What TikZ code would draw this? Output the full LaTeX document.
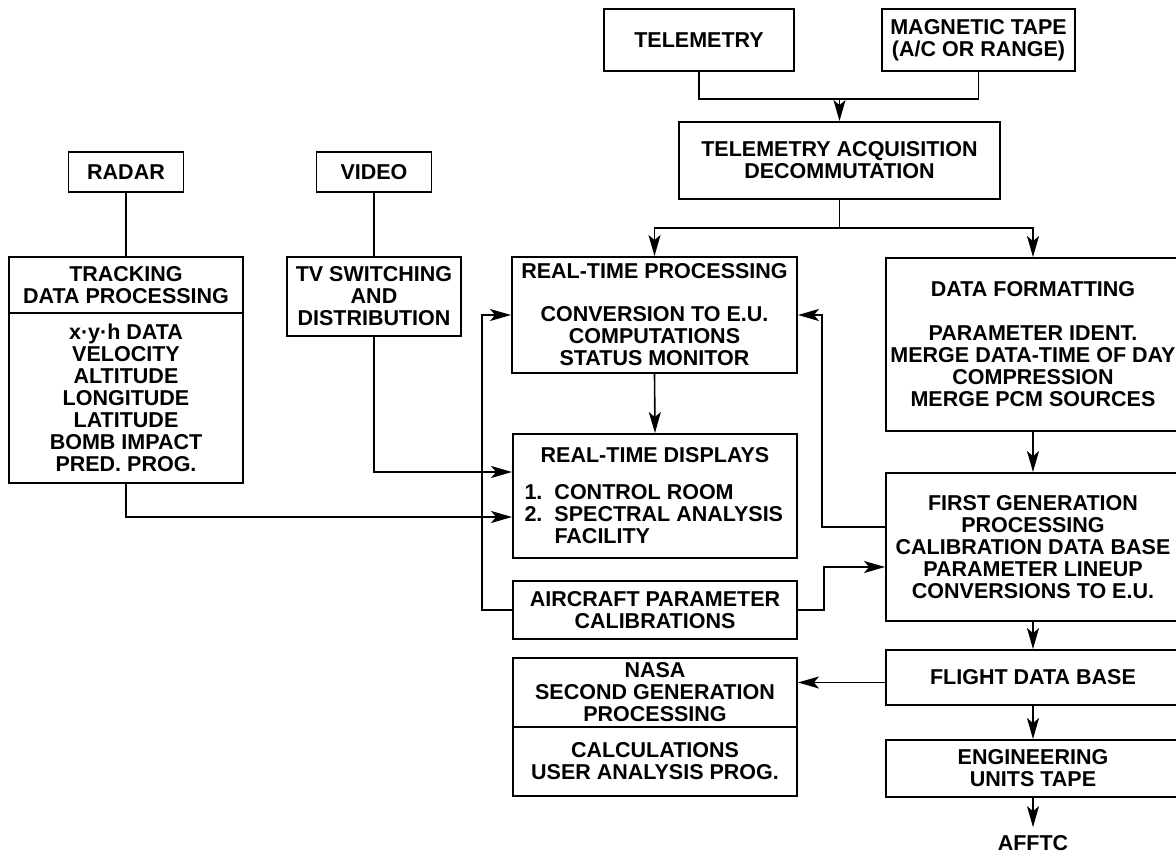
\documentclass[tikz,border=0pt]{standalone}
\usepackage{fontspec}
\setmainfont{Liberation Sans}
\usetikzlibrary{arrows.meta}
\begin{document}
\begin{tikzpicture}[x=1pt,y=-1pt,
  txt/.style={font=\bfseries\fontsize{21.5}{22}\selectfont},
  box/.style={txt, draw, line width=1.9pt, inner sep=0pt, align=center},
  con/.style={line width=1.6pt},
  arr/.style={con, -{Stealth[length=21pt,width=12pt,inset=5pt]}}]
\useasboundingbox (0,0) rectangle (1176,853);
% top sources
\node[box, minimum width=190pt, minimum height=62pt] (tel) at (699,40) {TELEMETRY};
\node[box, minimum width=193pt, minimum height=62pt] (mag) at (978.5,40) {MAGNETIC TAPE\\(A/C OR RANGE)};
\node[box, minimum width=321pt, minimum height=77pt] (tad) at (839.5,160.5) {TELEMETRY ACQUISITION\\DECOMMUTATION};
% left sources
\node[box, minimum width=115pt, minimum height=40pt] (radar) at (126,172) {RADAR};
\node[box, minimum width=115pt, minimum height=40pt] (video) at (374,172) {VIDEO};
\node[box, minimum width=234pt, minimum height=56pt] (trktop) at (126,285) {TRACKING\\DATA PROCESSING};
\node[box, minimum width=234pt, minimum height=170pt] (trkbot) at (126,398) {x·y·h DATA\\VELOCITY\\ALTITUDE\\LONGITUDE\\LATITUDE\\BOMB IMPACT\\PRED. PROG.};
\node[box, minimum width=174pt, minimum height=79pt] (tv) at (374,296.5) {TV SWITCHING\\AND\\DISTRIBUTION};
% middle column
\node[box, minimum width=285pt, minimum height=116pt] (rtp) at (654.5,315) {REAL-TIME PROCESSING\\[21pt]CONVERSION TO E.U.\\COMPUTATIONS\\STATUS MONITOR};
\node[box, minimum width=284pt, minimum height=124pt] (rtd) at (655,496) {REAL-TIME DISPLAYS\\[15pt]\makebox[261pt][l]{\makebox[30pt][l]{1.}CONTROL ROOM}\\\makebox[261pt][l]{\makebox[30pt][l]{2.}SPECTRAL ANALYSIS}\\\makebox[261pt][l]{\hspace{30pt}FACILITY}};
\node[box, minimum width=284pt, minimum height=58pt] (apc) at (655,610) {AIRCRAFT PARAMETER\\CALIBRATIONS};
\node[box, minimum width=284pt, minimum height=69pt] (nasatop) at (655,692.5) {NASA\\SECOND GENERATION\\PROCESSING};
\node[box, minimum width=284pt, minimum height=69pt] (nasabot) at (655,761.5) {CALCULATIONS\\USER ANALYSIS PROG.};
% right column
\node[box, minimum width=294pt, minimum height=173pt] (df) at (1033,344.5) {DATA FORMATTING\\[22pt]PARAMETER IDENT.\\MERGE DATA-TIME OF DAY\\COMPRESSION\\MERGE PCM SOURCES};
\node[box, minimum width=294pt, minimum height=148pt] (fgp) at (1033,547) {FIRST GENERATION\\PROCESSING\\CALIBRATION DATA BASE\\PARAMETER LINEUP\\CONVERSIONS TO E.U.};
\node[box, minimum width=294pt, minimum height=55pt] (fdb) at (1033,677.5) {FLIGHT DATA BASE};
\node[box, minimum width=294pt, minimum height=57pt] (eut) at (1033,768.5) {ENGINEERING\\UNITS TAPE};
\node[txt, inner sep=0pt] (afftc) at (1033,843) {AFFTC};
% connectors
\coordinate (j1) at (839.5,99);
\coordinate (j2) at (839.5,228);
\draw[con] (tel.south) |- (j1) -| (mag.south);
\draw[arr] (j1) -- (tad.north);
\draw[con] (tad.south) -- (j2);
\draw[arr] (j2) -| (rtp.north);
\draw[arr] (j2) -| (df.north);
\draw[con] (radar.south) -- (trktop.north);
\draw[con] (video.south) -- (tv.north);
\draw[arr] (trkbot.south) |- ([yshift=-21pt]rtd.west);
\draw[arr] (tv.south) |- ([yshift=24pt]rtd.west);
\draw[arr] (apc.west) -- ++(-30,0) |- (rtp.west);
\draw[arr] (rtp.south) -- (rtd.north);
\draw[arr] (df.south) -- (fgp.north);
\draw[arr] ([yshift=20pt]fgp.west) -- ++(-63,0) |- (rtp.east);
\draw[arr] (apc.east) -- ++(26,0) |- ([yshift=-20pt]fgp.west);
\draw[arr] (fgp.south) -- (fdb.north);
\draw[arr] ([yshift=-5pt]fdb.west) -- ([yshift=-5pt]fdb.west -| nasatop.east);
\draw[arr] (fdb.south) -- (eut.north);
\draw[arr, shorten >=8pt] (eut.south) -- (afftc.north);
\end{tikzpicture}
\end{document}
